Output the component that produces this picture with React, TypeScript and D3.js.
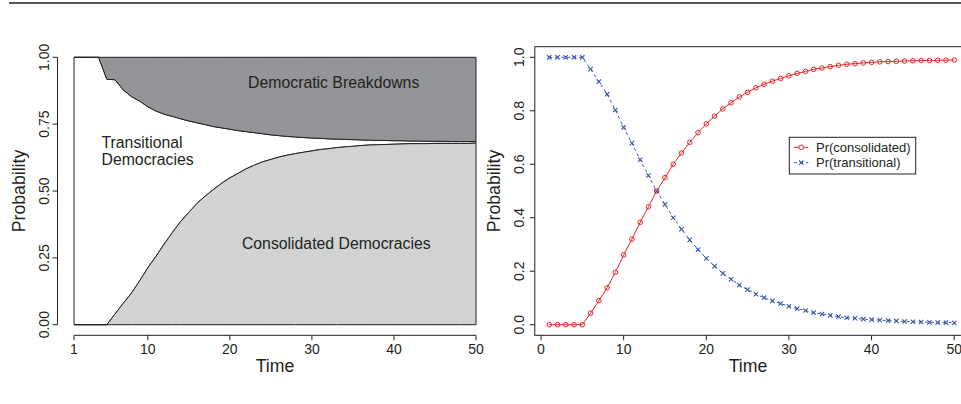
import * as d3 from "d3";

const FONT = "'Liberation Sans', Arial, Helvetica, sans-serif";
const INK = "#231f20";
const DARK_FILL = "#939598";
const LIGHT_FILL = "#d1d3d4";
const RED = "#e8262b";
const BLUE = "#3a56a8";

// time points 1..50
const time = d3.range(1, 51);

// left panel: cumulative shares
const survival = [
  1, 1, 1, 1, 0.918, 0.916, 0.878, 0.853, 0.836, 0.815, 0.799, 0.787, 0.779,
  0.77, 0.762, 0.755, 0.748, 0.741, 0.736, 0.731, 0.726, 0.722, 0.718, 0.714,
  0.71, 0.707, 0.704, 0.702, 0.7, 0.698, 0.697, 0.695, 0.694, 0.693, 0.692,
  0.691, 0.69, 0.689, 0.689, 0.688, 0.688, 0.687, 0.687, 0.686, 0.686, 0.686,
  0.685, 0.685, 0.685, 0.685,
];
const consolidatedShare = [
  0, 0, 0, 0, 0, 0.04, 0.08, 0.118, 0.164, 0.213, 0.256, 0.302, 0.345, 0.386,
  0.42, 0.454, 0.481, 0.506, 0.529, 0.549, 0.566, 0.583, 0.597, 0.609, 0.618,
  0.627, 0.634, 0.64, 0.645, 0.65, 0.655, 0.658, 0.662, 0.665, 0.667, 0.67,
  0.672, 0.673, 0.674, 0.675, 0.676, 0.677, 0.677, 0.677, 0.678, 0.678, 0.678,
  0.678, 0.678, 0.679,
];

// right panel: conditional probabilities
const prConsolidated = [
  0, 0, 0, 0, 0, 0.043, 0.09, 0.138, 0.196, 0.261, 0.32, 0.383, 0.441, 0.5,
  0.55, 0.6, 0.642, 0.682, 0.718, 0.751, 0.78, 0.807, 0.83, 0.852, 0.869,
  0.886, 0.899, 0.911, 0.921, 0.931, 0.94, 0.947, 0.955, 0.96, 0.965, 0.97,
  0.974, 0.976, 0.979, 0.981, 0.983, 0.984, 0.985, 0.986, 0.987, 0.988, 0.988,
  0.989, 0.989, 0.99,
];
const prTransitional = [
  1, 1, 1, 1, 1, 0.956, 0.909, 0.862, 0.803, 0.738, 0.679, 0.617, 0.558, 0.5,
  0.45, 0.4, 0.357, 0.317, 0.281, 0.248, 0.219, 0.192, 0.17, 0.148, 0.131,
  0.114, 0.101, 0.089, 0.079, 0.069, 0.06, 0.053, 0.045, 0.04, 0.035, 0.03,
  0.026, 0.024, 0.021, 0.019, 0.017, 0.015, 0.014, 0.012, 0.011, 0.01, 0.009,
  0.008, 0.008, 0.007,
];

const leftXTicks = [1, 10, 20, 30, 40, 50];
const leftYTicks = [0, 0.25, 0.5, 0.75, 1];
const rightXTicks = [0, 10, 20, 30, 40, 50];
const rightYTicks = [0, 0.2, 0.4, 0.6, 0.8, 1];

const legendItems = [
  { label: "Pr(consolidated)", color: RED, dash: null, marker: "circle" },
  { label: "Pr(transitional)", color: BLUE, dash: "3,3", marker: "cross" },
];

const W = 961;
const H = 404;

export default function App() {
  // scales
  const xL = d3.scaleLinear().domain([1, 50]).range([74, 476]);
  const yL = d3.scaleLinear().domain([0, 1]).range([324.7, 57.3]);
  const xR = d3.scaleLinear().domain([0, 50]).range([541, 954.2]);
  const yR = d3.scaleLinear().domain([0, 1]).range([324.7, 57.3]);

  const idx = time.map((_, i) => i);

  const breakdownArea = d3
    .area<number>()
    .x((i) => xL(time[i]))
    .y0((i) => yL(survival[i]))
    .y1(() => yL(1))(idx);
  const transitionalArea = d3
    .area<number>()
    .x((i) => xL(time[i]))
    .y0((i) => yL(consolidatedShare[i]))
    .y1((i) => yL(survival[i]))(idx);
  const consolidatedArea = d3
    .area<number>()
    .x((i) => xL(time[i]))
    .y0(() => yL(0))
    .y1((i) => yL(consolidatedShare[i]))(idx);

  const line = (vals: number[]) =>
    d3
      .line<number>()
      .x((i) => xR(time[i]))
      .y((i) => yR(vals[i]))(idx);

  const axisY = 335.3;
  const tickLen = 5;

  const cross = (cx: number, cy: number, s: number, color: string, key: any) => (
    <path
      key={key}
      d={`M${cx - s},${cy - s}L${cx + s},${cy + s}M${cx - s},${cy + s}L${cx + s},${cy - s}`}
      stroke={color}
      strokeWidth={1.1}
      fill="none"
    />
  );

  return (
    <svg
      width={W}
      height={H}
      style={{ position: "absolute", left: 0, top: 0, background: "#fff" }}
      fontFamily={FONT}
    >
      <rect x={0} y={0} width={W} height={H} fill="#fff" />
      {/* rule at the top of the page */}
      <line x1={9} x2={W} y1={3} y2={3} stroke={INK} strokeWidth={1.6} />

      {/* ---------- left panel ---------- */}
      <path d={transitionalArea!} fill="#fff" stroke={INK} strokeWidth={1} />
      <path d={breakdownArea!} fill={DARK_FILL} stroke={INK} strokeWidth={1} />
      <path d={consolidatedArea!} fill={LIGHT_FILL} stroke={INK} strokeWidth={1} />

      <text x={333.7} y={88.3} fontSize={15.8} fill={INK} textAnchor="middle">
        Democratic Breakdowns
      </text>
      <text x={336.3} y={249} fontSize={15.8} fill={INK} textAnchor="middle">
        Consolidated Democracies
      </text>
      <text x={101.5} y={148} fontSize={15.8} fill={INK}>
        Transitional
      </text>
      <text x={101.5} y={165} fontSize={15.8} fill={INK}>
        Democracies
      </text>

      {/* left x axis */}
      <line x1={xL(1)} x2={xL(50)} y1={axisY} y2={axisY} stroke={INK} />
      {leftXTicks.map((t) => (
        <g key={`lx${t}`}>
          <line x1={xL(t)} x2={xL(t)} y1={axisY} y2={axisY + tickLen} stroke={INK} />
          <text x={xL(t)} y={354} fontSize={14} fill={INK} textAnchor="middle">
            {t}
          </text>
        </g>
      ))}
      <text x={275} y={371.5} fontSize={17.7} fill={INK} textAnchor="middle">
        Time
      </text>

      {/* left y axis */}
      <line x1={57.5} x2={57.5} y1={yL(0)} y2={yL(1)} stroke={INK} />
      {leftYTicks.map((v) => (
        <g key={`ly${v}`}>
          <line x1={57.5 - tickLen} x2={57.5} y1={yL(v)} y2={yL(v)} stroke={INK} />
          <text
            transform={`translate(43.8,${yL(v)}) rotate(-90)`}
            dy="0.36em"
            fontSize={14}
            fill={INK}
            textAnchor="middle"
          >
            {v.toFixed(2)}
          </text>
        </g>
      ))}
      <text
        transform={`translate(18.5,${yL(0.5)}) rotate(-90)`}
        dy="0.36em"
        fontSize={17.7}
        fill={INK}
        textAnchor="middle"
      >
        Probability
      </text>

      {/* ---------- right panel ---------- */}
      <rect
        x={534.8}
        y={46.7}
        width={440}
        height={axisY - 46.7}
        fill="none"
        stroke={INK}
        strokeWidth={1}
      />
      {rightXTicks.map((t) => (
        <g key={`rx${t}`}>
          <line x1={xR(t)} x2={xR(t)} y1={axisY} y2={axisY + tickLen} stroke={INK} />
          <text x={xR(t)} y={354} fontSize={14} fill={INK} textAnchor="middle">
            {t}
          </text>
        </g>
      ))}
      <text x={748} y={371.5} fontSize={17.7} fill={INK} textAnchor="middle">
        Time
      </text>
      {rightYTicks.map((v) => (
        <g key={`ry${v}`}>
          <line x1={534.8 - tickLen} x2={534.8} y1={yR(v)} y2={yR(v)} stroke={INK} />
          <text
            transform={`translate(519.3,${yR(v)}) rotate(-90)`}
            dy="0.36em"
            fontSize={14}
            fill={INK}
            textAnchor="middle"
          >
            {v.toFixed(1)}
          </text>
        </g>
      ))}
      <text
        transform={`translate(494,${yR(0.5)}) rotate(-90)`}
        dy="0.36em"
        fontSize={17.7}
        fill={INK}
        textAnchor="middle"
      >
        Probability
      </text>

      {/* series */}
      <path d={line(prConsolidated)!} fill="none" stroke={RED} strokeWidth={1} />
      <path
        d={line(prTransitional)!}
        fill="none"
        stroke={BLUE}
        strokeWidth={1}
        strokeDasharray="3,3"
      />
      {idx.map((i) => (
        <circle
          key={`c${i}`}
          cx={xR(time[i])}
          cy={yR(prConsolidated[i])}
          r={2.3}
          fill="none"
          stroke={RED}
          strokeWidth={1}
        />
      ))}
      {idx.map((i) => cross(xR(time[i]), yR(prTransitional[i]), 2.2, BLUE, `x${i}`))}

      {/* legend */}
      <rect x={789.3} y={137.3} width={126.4} height={36.7} fill="#fff" stroke={INK} strokeWidth={1} />
      {legendItems.map((d, k) => {
        const ly = 147.3 + k * 15.4;
        return (
          <g key={d.label}>
            <line
              x1={794}
              x2={808.3}
              y1={ly}
              y2={ly}
              stroke={d.color}
              strokeWidth={1}
              strokeDasharray={d.dash ?? undefined}
            />
            {d.marker === "circle" ? (
              <circle cx={801.2} cy={ly} r={2.3} fill="#fff" stroke={d.color} strokeWidth={1} />
            ) : (
              cross(801.2, ly, 2.2, d.color, "lc")
            )}
            <text x={816} y={ly} dy="0.35em" fontSize={13} fill={INK}>
              {d.label}
            </text>
          </g>
        );
      })}
    </svg>
  );
}
